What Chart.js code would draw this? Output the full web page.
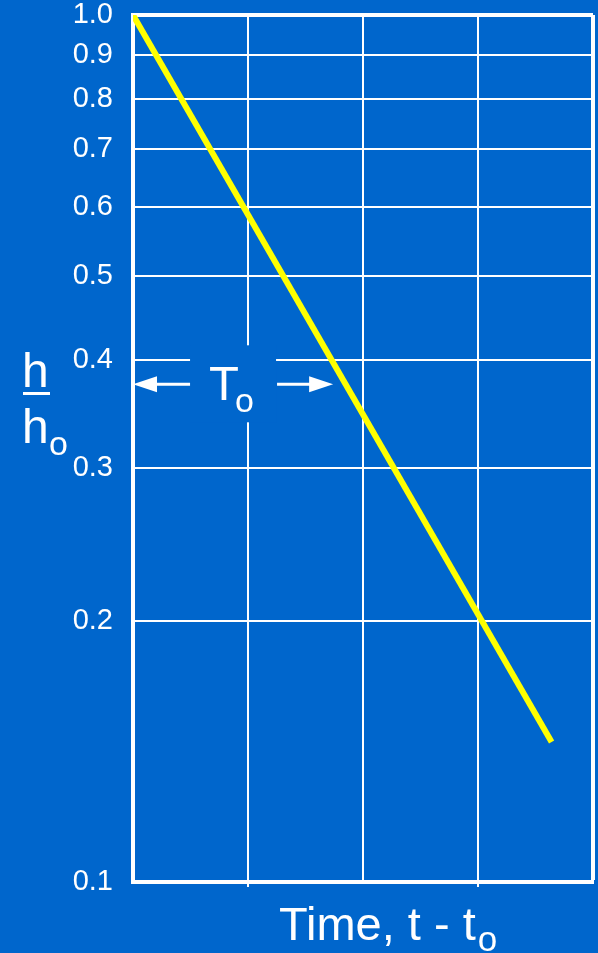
<!DOCTYPE html>
<html>
<head>
<meta charset="utf-8">
<title>Recovery h/h0</title>
<script src="https://cdn.jsdelivr.net/npm/chart.js@4.4.1/dist/chart.umd.min.js"></script>
<style>
  html, body { margin: 0; padding: 0; background: #0066cc; }
  #wrap { width: 598px; height: 953px; }
</style>
</head>
<body>
<div id="wrap"><canvas id="recoveryChart"></canvas></div>
<script>
// head ratio ticks on the log axis
const yTicks = [0.1, 0.2, 0.3, 0.4, 0.5, 0.6, 0.7, 0.8, 0.9, 1.0];
// time grid (arbitrary units, no labels)
const xGrid = [0, 1, 2, 3, 4];

// straight-line decay on the semi-log plot
const timeValues = [0, 3.64];
const headRatios = [1.0, 0.145];

// T_o marker: level of the arrows and where the right arrow stops
const T0_LEVEL = 0.375;
const T0_END = 1.74;

const BG = '#0066cc';
const WHITE = '#ffffff';
const FONT = '"Liberation Sans", Arial, sans-serif';

const decayPoints = timeValues.map((t, i) => ({ x: t, y: headRatios[i] }));

function arrowHead(ctx, tipX, y, dir) {
  ctx.beginPath();
  ctx.moveTo(tipX, y);
  ctx.lineTo(tipX + dir * 24, y - 8);
  ctx.lineTo(tipX + dir * 24, y + 8);
  ctx.closePath();
  ctx.fill();
}

const labels = {
  id: 'labels',
  beforeDatasetsDraw(chart) {
    const { ctx, scales: { x, y } } = chart;
    const yA = y.getPixelForValue(T0_LEVEL);
    const xL = x.getPixelForValue(0);
    const xR = x.getPixelForValue(T0_END);
    const cx = (xL + xR) / 2;

    ctx.save();
    // clear the grid behind the T_o label
    ctx.fillStyle = BG;
    ctx.fillRect(cx - 43, yA - 39, 86, 77);

    ctx.fillStyle = WHITE;
    ctx.strokeStyle = WHITE;
    ctx.lineWidth = 3;
    ctx.beginPath();
    ctx.moveTo(xL + 20, yA);
    ctx.lineTo(cx - 43, yA);
    ctx.moveTo(cx + 44, yA);
    ctx.lineTo(xR - 20, yA);
    ctx.stroke();
    arrowHead(ctx, xL, yA, 1);
    arrowHead(ctx, xR, yA, -1);

    ctx.textBaseline = 'alphabetic';
    ctx.textAlign = 'left';
    ctx.font = '49px ' + FONT;
    ctx.fillText('T', cx - 24, yA + 16);
    ctx.font = '34px ' + FONT;
    ctx.fillText('o', cx + 2, yA + 28);
    ctx.restore();
  },
  afterDraw(chart) {
    const { ctx } = chart;
    ctx.save();
    ctx.fillStyle = WHITE;
    ctx.textBaseline = 'alphabetic';
    ctx.textAlign = 'left';

    // y label: h over h_o
    ctx.font = '48px ' + FONT;
    ctx.fillText('h', 22, 387);
    ctx.fillRect(23, 392, 27, 3);
    ctx.fillText('h', 22, 443);
    ctx.font = '34px ' + FONT;
    ctx.fillText('o', 49, 455);

    // x label: Time, t - t_o
    ctx.font = '47px ' + FONT;
    const main = 'Time, t - t';
    ctx.fillText(main, 279, 940);
    const w = ctx.measureText(main).width;
    ctx.font = '35px ' + FONT;
    ctx.fillText('o', 279 + w + 2, 951);
    ctx.restore();
  }
};

new Chart(document.getElementById('recoveryChart'), {
  type: 'line',
  data: {
    datasets: [{
      data: decayPoints,
      borderColor: '#ffff00',
      borderWidth: 6,
      pointRadius: 0,
      fill: false,
      tension: 0
    }]
  },
  options: {
    responsive: true,
    maintainAspectRatio: false,
    animation: false,
    devicePixelRatio: 1,
    layout: { padding: { top: 15, right: 5, left: 0, bottom: 0 } },
    plugins: {
      legend: { display: false },
      tooltip: { enabled: false }
    },
    scales: {
      x: {
        type: 'linear',
        min: 0,
        max: 4,
        afterBuildTicks: scale => { scale.ticks = xGrid.map(v => ({ value: v })); },
        afterFit: scale => {
          scale.height = 71;
          scale.paddingLeft = 0;
          scale.paddingRight = 0;
        },
        ticks: { display: false },
        grid: {
          color: WHITE,
          lineWidth: c => (c.tick && c.tick.value === 4 ? 4 : 2),
          drawTicks: true,
          tickLength: 5,
          tickWidth: 2,
          tickColor: c => (c.tick && (c.tick.value === 1 || c.tick.value === 3) ? WHITE : 'rgba(0,0,0,0)')
        },
        border: { color: WHITE, width: 4 }
      },
      y: {
        type: 'logarithmic',
        min: 0.1,
        max: 1,
        afterBuildTicks: scale => { scale.ticks = yTicks.map(v => ({ value: v })); },
        afterFit: scale => {
          scale.width = 133;
          scale.paddingTop = 0;
          scale.paddingBottom = 0;
        },
        ticks: {
          color: WHITE,
          padding: 20,
          autoSkip: false,
          font: { family: FONT, size: 29 },
          callback: v => Number(v).toFixed(1)
        },
        grid: {
          color: WHITE,
          lineWidth: c => (c.tick && c.tick.value === 1 ? 4 : 2),
          drawTicks: false
        },
        border: { color: WHITE, width: 4 }
      }
    }
  },
  plugins: [labels]
});
</script>
</body>
</html>
